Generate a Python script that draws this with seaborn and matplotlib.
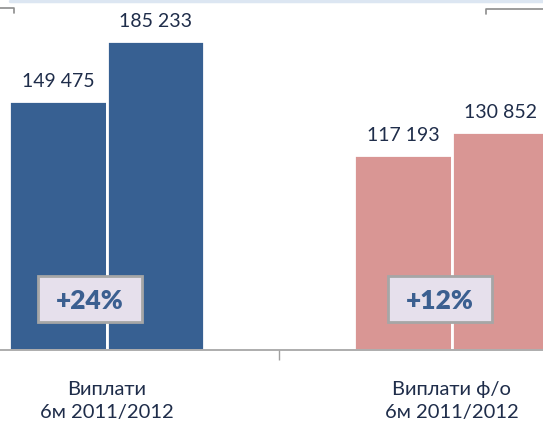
import numpy as np
import pandas as pd
import matplotlib.pyplot as plt
from matplotlib.lines import Line2D
from matplotlib.patches import Rectangle
import seaborn as sns

# ---- data ---------------------------------------------------------------
categories = ["Виплати\n6м 2011/2012", "Виплати ф/о\n6м 2011/2012"]
years = ["2011", "2012"]
values_2011 = [149475, 117193]
values_2012 = [185233, 130852]
growth = ["+24%", "+12%"]

BAR_COLORS = ["#376092", "#D99694"]
TEXT_DARK = "#1F2D4A"
BOX_TEXT = "#3B5F90"

df = pd.DataFrame({
    "category": categories * 2,
    "year": [years[0]] * 2 + [years[1]] * 2,
    "value": values_2011 + values_2012,
})

sns.set_theme(style="white")
plt.rcParams["font.family"] = ["Lato", "DejaVu Sans"]

fig = plt.figure(figsize=(5.43, 4.23), dpi=100)
ax = fig.add_axes([0, 73 / 423, 1, 350 / 423])

sns.barplot(data=df, x="category", y="value", hue="year", width=0.565,
            edgecolor="white", linewidth=2, legend=False, ax=ax)

for cont in ax.containers:
    for i, bar in enumerate(cont):
        bar.set_facecolor(BAR_COLORS[i])
    ax.bar_label(cont, labels=[f"{v:,.0f}".replace(",", " ") for v in cont.datavalues],
                 padding=8, fontsize=14, color=TEXT_DARK)

ax.set_xlim(-0.310, 1.264)
ax.set_ylim(0, 210000)
ax.set(xlabel="", ylabel="", yticks=[])
ax.set_xticks([0.5], [""])
ax.tick_params(axis="x", bottom=True, length=7, width=1, color="#A0A0A0")
for s in ["left", "right", "top"]:
    ax.spines[s].set_visible(False)
ax.spines["bottom"].set_color("#A0A0A0")
ax.spines["bottom"].set_linewidth(1.2)

# category labels under the axis
for i, c in enumerate(categories):
    ax.text(i, -18500, c, ha="center", va="top", fontsize=14.5, color=TEXT_DARK,
            linespacing=1.45)

# growth boxes (approx 104x46 px)
box_w, box_h = 104 / 345, 46 / 0.001667
for i, g in enumerate(growth):
    cx, cy = [-0.049, 0.965][i], 30600
    ax.add_patch(Rectangle((cx - box_w / 2, cy - box_h / 2), box_w, box_h,
                           fc="#E6E0EC", ec="#A6A6A6", lw=2, zorder=5))
    ax.text(cx, cy, g, ha="center", va="center_baseline", fontsize=19,
            fontweight="heavy", color=BOX_TEXT, zorder=6)

# decorations from the source slide
W, H = 543, 423
def px_line(xs, ys, **kw):
    fig.add_artist(Line2D([x / W for x in xs], [1 - y / H for y in ys],
                          transform=fig.transFigure, **kw))

px_line([10, 543], [1, 1], color="#DCE6F2", lw=2.5)
px_line([0, 14, 14], [8, 8, 13], color="#8C8C8C", lw=1.2)
px_line([486, 486, 543], [14, 9, 9], color="#8C8C8C", lw=1.2)

fig.savefig("out.png", dpi=100)
